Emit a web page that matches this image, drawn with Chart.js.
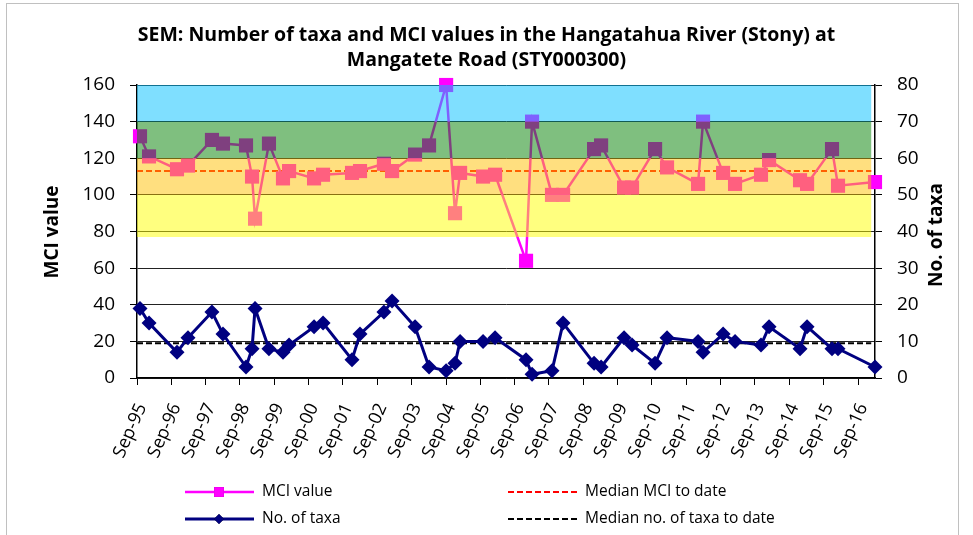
<!DOCTYPE html>
<html>
<head>
<meta charset="utf-8">
<title>SEM: Number of taxa and MCI values - Hangatahua River (Stony)</title>
<script src="https://cdn.jsdelivr.net/npm/chart.js@4.4.1/dist/chart.umd.min.js"></script>
<style>
  html, body { margin: 0; padding: 0; background: #fff; }
  #wrap { width: 973px; height: 535px; }
</style>
</head>
<body>
<div id="wrap"><canvas id="mciChart" width="973" height="535"></canvas></div>
<script>
// sampling dates (spring / summer surveys)
const sampleDates = [
    '1995-10-03', '1996-01-07', '1996-10-31', '1997-02-25', '1997-11-07', '1998-03-04',
    '1998-11-04', '1999-01-07', '1999-02-08', '1999-07-06', '1999-12-02', '2000-02-05',
    '2000-10-28', '2001-02-01', '2001-12-06', '2002-03-01', '2002-11-10', '2003-02-05',
    '2003-10-07', '2004-03-04', '2004-09-02', '2004-12-06', '2005-01-29', '2005-09-30',
    '2006-02-05', '2006-12-31', '2007-03-05', '2007-10-03', '2008-01-29', '2008-12-24',
    '2009-03-09', '2009-11-08', '2010-02-01', '2010-10-04', '2011-02-08', '2012-01-04',
    '2012-02-26', '2012-09-27', '2013-02-01', '2013-11-04', '2014-01-29', '2014-12-24',
    '2015-03-09', '2015-11-29', '2016-02-01', '2017-03-01'
];
const mciValues = [
    132, 121, 114, 116, 130, 128,
    127, 110, 87, 128, 109, 113,
    109, 111, 112, 113, 117, 113,
    122, 127, 160, 90, 112, 110,
    111, 64, 140, 100, 100, 125,
    127, 104, 104, 125, 115, 106,
    140, 112, 106, 111, 119, 108,
    106, 125, 105, 107
];
const taxaCounts = [
    19, 15, 7, 11, 18, 12,
    3, 8, 19, 8, 7, 9,
    14, 15, 5, 12, 18, 21,
    14, 3, 2, 4, 10, 10,
    11, 5, 1, 2, 15, 4,
    3, 11, 9, 4, 11, 10,
    7, 12, 10, 9, 14, 8,
    14, 8, 8, 3
];
const tickLabels = [
    'Sep-95', 'Sep-96', 'Sep-97', 'Sep-98', 'Sep-99', 'Sep-00', 'Sep-01', 'Sep-02',
    'Sep-03', 'Sep-04', 'Sep-05', 'Sep-06', 'Sep-07', 'Sep-08', 'Sep-09', 'Sep-10',
    'Sep-11', 'Sep-12', 'Sep-13', 'Sep-14', 'Sep-15', 'Sep-16'
];
const medianMci = 113;
const medianTaxa = 9.5;
// MCI quality bands: [from, to]
const bandRanges = [[140, 160], [120, 140], [100, 120], [77, 100]];
const bandColors = ['rgba(0,192,255,0.5)', 'rgba(0,128,0,0.5)', 'rgba(255,192,0,0.5)', 'rgba(255,255,0,0.5)'];
const axisStart = '1995-09-01';
const bandEnd = '2017-01-20';

// date string -> decimal year
function toYear(s) {
    const d = new Date(s + 'T00:00:00Z');
    const y = d.getUTCFullYear();
    const start = Date.UTC(y, 0, 1);
    return y + (d - start) / (Date.UTC(y + 1, 0, 1) - start);
}

const tickValues = tickLabels.map(function (t) {
    const yy = parseInt(t.slice(4), 10);
    return toYear((yy > 50 ? 1900 + yy : 2000 + yy) + '-09-01');
});
const xMin = toYear(axisStart);
const xMax = toYear(sampleDates[sampleDates.length - 1]);
const xBandEnd = toYear(bandEnd);

const mciPoints = sampleDates.map((d, i) => ({ x: toYear(d), y: mciValues[i] }));
const taxaPoints = sampleDates.map((d, i) => ({ x: toYear(d), y: taxaCounts[i] }));

const FONT = "'Open Sans', 'DejaVu Sans', sans-serif";

// translucent quality bands over the MCI series
const bandsPlugin = {
    id: 'mciBands',
    afterDatasetsDraw(chart) {
        const ctx = chart.ctx;
        const xs = chart.scales.x;
        const ys = chart.scales.y;
        const left = xs.left;
        const right = xs.getPixelForValue(xBandEnd);
        ctx.save();
        bandRanges.forEach(function (b, i) {
            const top = ys.getPixelForValue(b[1]);
            const bottom = ys.getPixelForValue(b[0]);
            ctx.fillStyle = bandColors[i];
            ctx.fillRect(left, top, right - left, bottom - top);
        });
        ctx.restore();
    }
};

// axis titles, legend and outer frame
const extrasPlugin = {
    id: 'extras',
    afterDraw(chart) {
        const ctx = chart.ctx;
        const sets = chart.data.datasets;
        ctx.save();

        ctx.strokeStyle = '#c0c0c0';
        ctx.lineWidth = 1;
        ctx.strokeRect(6.5, 3.5, 952, 600);

        ctx.fillStyle = '#000';
        ctx.font = 'bold 19px ' + FONT;
        ctx.textAlign = 'center';
        ctx.textBaseline = 'middle';
        [['MCI value', 53, 232], ['No. of taxa', 937, 235]].forEach(function (t) {
            ctx.save();
            ctx.translate(t[1], t[2]);
            ctx.rotate(-Math.PI / 2);
            ctx.fillText(t[0], 0, 0);
            ctx.restore();
        });

        const items = [
            { ds: sets[0], x: 185, y: 492, marker: 'rect' },
            { ds: sets[1], x: 185, y: 519, marker: 'rectRot' },
            { ds: sets[2], x: 508, y: 492 },
            { ds: sets[3], x: 508, y: 519 }
        ];
        ctx.font = '15.5px ' + FONT;
        ctx.textAlign = 'left';
        items.forEach(function (it) {
            const ds = it.ds;
            ctx.save();
            ctx.strokeStyle = ds.borderColor;
            ctx.lineWidth = ds.borderWidth;
            ctx.setLineDash(ds.borderDash || []);
            ctx.beginPath();
            ctx.moveTo(it.x, it.y);
            ctx.lineTo(it.x + 69, it.y);
            ctx.stroke();
            ctx.restore();
            if (it.marker) {
                Chart.helpers.drawPoint(ctx, {
                    pointStyle: it.marker,
                    radius: it.marker === 'rect' ? 7 : 5,
                    borderWidth: 0
                }, it.x + 34, it.y);
                ctx.fillStyle = ds.backgroundColor;
                ctx.fill();
            }
            ctx.fillStyle = '#000';
            ctx.fillText(ds.label, it.x + 77, it.y);
        });
        ctx.restore();
    }
};

new Chart(document.getElementById('mciChart'), {
    type: 'line',
    data: {
        datasets: [{
            label: 'MCI value',
            data: mciPoints,
            yAxisID: 'y',
            borderColor: '#ff00ff',
            backgroundColor: '#ff00ff',
            borderWidth: 2.5,
            pointStyle: 'rect',
            pointRadius: 10,
            pointBorderWidth: 0,
            clip: false
        }, {
            label: 'No. of taxa',
            data: taxaPoints,
            yAxisID: 'y1',
            borderColor: '#000080',
            backgroundColor: '#000080',
            borderWidth: 3,
            pointStyle: 'rectRot',
            pointRadius: 7.5,
            pointBorderWidth: 0,
            clip: false
        }, {
            label: 'Median MCI to date',
            data: [{ x: xMin, y: medianMci }, { x: xBandEnd, y: medianMci }],
            yAxisID: 'y',
            borderColor: '#ff0000',
            borderWidth: 2,
            borderDash: [6, 3],
            pointRadius: 0
        }, {
            label: 'Median no. of taxa to date',
            data: [{ x: xMin, y: medianTaxa }, { x: xBandEnd, y: medianTaxa }],
            yAxisID: 'y1',
            borderColor: '#000000',
            borderWidth: 2,
            borderDash: [6, 3],
            pointRadius: 0
        }]
    },
    options: {
        responsive: false,
        animation: false,
        events: [],
        font: { family: FONT },
        layout: { padding: 0 },
        plugins: {
            legend: { display: false },
            tooltip: { enabled: false },
            title: {
                display: true,
                text: ['SEM: Number of taxa and MCI values in the Hangatahua River (Stony) at', 'Mangatete Road (STY000300)'],
                color: '#000',
                font: { family: FONT, size: 19.5, weight: 'bold', lineHeight: 25 / 19.5 },
                padding: { top: 23, bottom: 12 }
            }
        },
        scales: {
            x: {
                type: 'linear',
                min: xMin,
                max: xMax,
                afterBuildTicks: function (scale) {
                    scale.ticks = tickValues.map(v => ({ value: v }));
                },
                afterFit: function (scale) { scale.height = 157; },
                ticks: {
                    autoSkip: false,
                    minRotation: 66,
                    maxRotation: 66,
                    padding: 15,
                    labelOffset: 5,
                    color: '#000',
                    font: { family: FONT, size: 18 },
                    callback: (value, index) => tickLabels[index]
                },
                grid: { drawOnChartArea: false, tickLength: 7, color: '#000', lineWidth: 1 },
                border: { color: '#000', width: 1.5 }
            },
            y: {
                position: 'left',
                min: 0,
                max: 160,
                afterFit: function (scale) { scale.width = 137; },
                ticks: { stepSize: 20, padding: 15, color: '#000', font: { family: FONT, size: 19 } },
                grid: { color: '#222', lineWidth: 1, tickLength: 7, tickColor: '#000' },
                border: { color: '#000', width: 1.5 }
            },
            y1: {
                position: 'right',
                min: 0,
                max: 80,
                afterFit: function (scale) { scale.width = 98; },
                ticks: { stepSize: 10, padding: 15, color: '#000', font: { family: FONT, size: 19 } },
                grid: { drawOnChartArea: false, tickLength: 7, color: '#000' },
                border: { color: '#000', width: 1.5 }
            }
        }
    },
    plugins: [bandsPlugin, extrasPlugin]
});
</script>
</body>
</html>
